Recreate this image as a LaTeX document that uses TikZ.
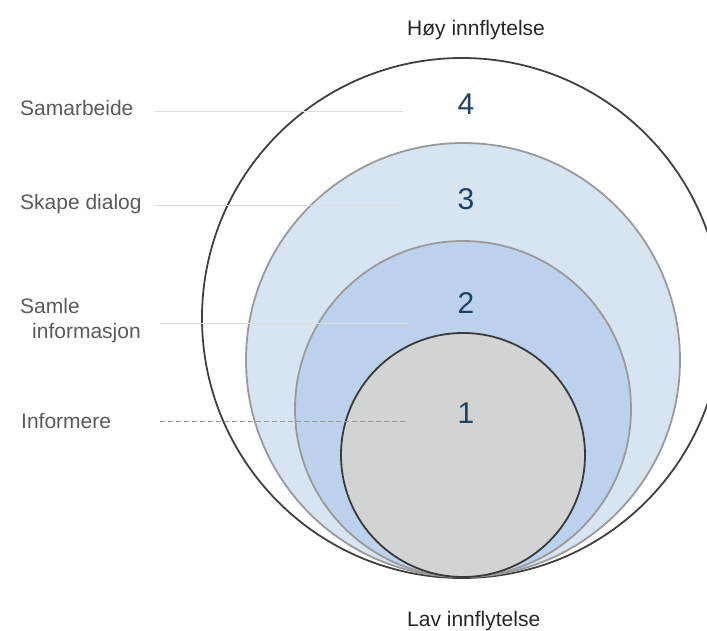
\documentclass[tikz,border=0pt]{standalone}
\usepackage{fontspec}
\setmainfont{Liberation Sans}
\definecolor{outerline}{HTML}{404040}
\definecolor{ringline}{HTML}{9A9A9A}
\definecolor{coreline}{HTML}{3A3A3A}
\definecolor{fillthree}{HTML}{D7E4F2}
\definecolor{filltwo}{HTML}{BCD2EC}
\definecolor{fillone}{HTML}{D1D4D3}
\definecolor{numcol}{HTML}{1D4262}
\definecolor{labcol}{HTML}{5A5A5A}
\definecolor{guidecol}{HTML}{DDDDDD}
\definecolor{dashcol}{HTML}{999999}
\begin{document}
\begin{tikzpicture}[x=1pt,y=-1pt,
  ring/.style={line width=1.8pt},
  numtxt/.style={anchor=base,inner sep=0pt,text=numcol,font=\fontsize{30}{34}\selectfont},
  labtxt/.style={anchor=base west,inner sep=0pt,text=labcol,font=\fontsize{21}{25}\selectfont},
  endtxt/.style={anchor=base west,inner sep=0pt,text=black!85,font=\fontsize{21}{25}\selectfont},
  guide/.style={guidecol,line width=1pt},
  dguide/.style={dashcol,line width=1pt,dash pattern=on 5pt off 3pt}]
\useasboundingbox (0,0) rectangle (707,630);
\clip (0,0) rectangle (707,630);
% circles
\draw[ring,draw=outerline,fill=white] (462,318) circle[radius=260pt];
\draw[ring,draw=ringline,fill=fillthree] (463,360) circle[radius=217pt];
\draw[ring,draw=ringline,fill=filltwo] (463,409) circle[radius=168pt];
\draw[ring,draw=coreline,fill=fillone] (463,455) circle[radius=122pt];
% guide lines
\coordinate (g4a) at (155,111); \coordinate (g4b) at (403,111);
\coordinate (g3a) at (155,205); \coordinate (g3b) at (403,205);
\coordinate (g2a) at (160,323); \coordinate (g2b) at (408,323);
\coordinate (g1a) at (160,421); \coordinate (g1b) at (408,421);
\draw[guide] (g4a) -- (g4b);
\draw[guide] (g3a) -- (g3b);
\draw[guide] (g2a) -- (g2b);
\draw[dguide] (g1a) -- (g1b);
% numbers
\node[numtxt] (n4) at (466,114) {4};
\node[numtxt] (n3) at (466,209) {3};
\node[numtxt] (n2) at (466,313) {2};
\node[numtxt] (n1) at (466,423) {1};
% labels
\node[labtxt] (l4) at (20,115) {Samarbeide};
\node[labtxt] (l3) at (20,209) {Skape dialog};
\node[labtxt] (l2a) at (20,313) {Samle};
\node[labtxt] (l2b) at (32,338) {informasjon};
\node[labtxt] (l1) at (21,428) {Informere};
\node[endtxt] (top) at (407,35) {Høy innflytelse};
\node[endtxt] (bot) at (407,626) {Lav innflytelse};
\end{tikzpicture}
\end{document}
